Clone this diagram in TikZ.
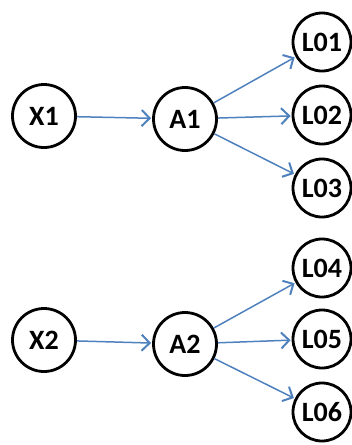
\documentclass[tikz,border=0pt]{standalone}
\usepackage{fontspec}
\setmainfont{Carlito}
\usetikzlibrary{arrows.meta}
\definecolor{arrowblue}{RGB}{79,129,189}
\tikzset{
  var/.style={circle,draw=black,line width=2.8pt,minimum size=63pt,inner sep=0pt,font=\fontsize{28}{30}\selectfont\bfseries},
  lvar/.style={var,minimum size=58pt},
  link/.style={draw=arrowblue,line width=1.5pt,-{Straight Barb[length=8pt,width=16pt,line width=2pt]},shorten >=1pt}
}
\begin{document}
\begin{tikzpicture}[x=1pt,y=-1pt]
\useasboundingbox (0,0) rectangle (352,445);
\node[var] (X1) at (44,116) {X1};
\node[var] (A1) at (185,119) {A1};
\node[lvar] (L01) at (322,42) {L01};
\node[lvar] (L02) at (322,115) {L02};
\node[lvar] (L03) at (322,188) {L03};
\node[var] (X2) at (44,340) {X2};
\node[var] (A2) at (185,344) {A2};
\node[lvar] (L04) at (322,268) {L04};
\node[lvar] (L05) at (322,339) {L05};
\node[lvar] (L06) at (322,412) {L06};
\draw[link] (X1) -- (A1);
\draw[link] (A1) -- (L01);
\draw[link] (A1) -- (L02);
\draw[link] (A1) -- (L03);
\draw[link] (X2) -- (A2);
\draw[link] (A2) -- (L04);
\draw[link] (A2) -- (L05);
\draw[link] (A2) -- (L06);
\end{tikzpicture}
\end{document}
